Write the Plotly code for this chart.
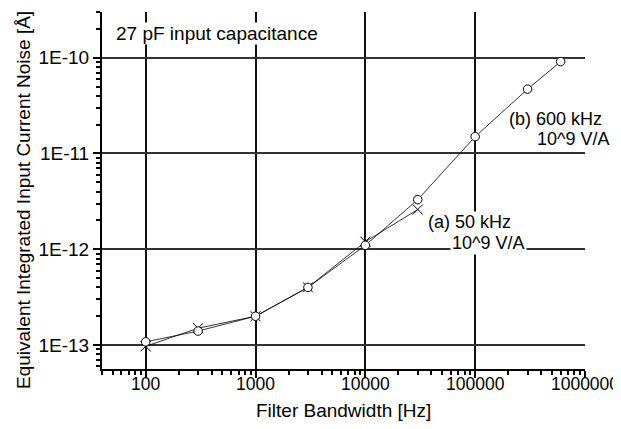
import math
import plotly.graph_objects as go

# ---- data ----
bw_b = [100, 300, 1000, 3000, 10000, 30000, 100000, 300000, 600000]
noise_b = [1.08e-13, 1.40e-13, 2.0e-13, 4.0e-13, 1.1e-12, 3.3e-12, 1.5e-11, 4.7e-11, 9.1e-11]
bw_a = [100, 300, 1000, 3000, 10000, 30000]
noise_a = [0.97e-13, 1.5e-13, 2.0e-13, 4.0e-13, 1.2e-12, 2.6e-12]

x_tickvals = [100, 1000, 10000, 100000, 1000000]
x_ticktext = ["100", "1000", "10000", "100000", "1000000"]
y_tickvals = [1e-13, 1e-12, 1e-11, 1e-10]
y_ticktext = ["1E-13", "1E-12", "1E-11", "1E-10"]

FONT = "Liberation Sans, Arial, sans-serif"
OFF = 8  # default page body margin
W, H = 621 - OFF, 429 - 2 * OFF
L, R, T = 102 - OFF, 36, 12 - OFF
PH = 357
B = H - T - PH
PW = W - L - R


def px(x):
    # window pixel -> paper fraction
    return (x - OFF - L) / PW


def py(y):
    return (H - B - (y - OFF)) / PH


x_minor = [m * 10 ** e for e in range(1, 6) for m in range(2, 10) if 40 <= m * 10 ** e <= 1e6]
y_minor = [m * 10.0 ** e for e in range(-14, -9) for m in range(2, 10) if 5.6e-14 <= m * 10.0 ** e <= 3.01e-10]

fig = go.Figure()
fig.add_trace(go.Scatter(
    x=bw_a, y=noise_a, mode="lines+markers",
    line=dict(color="black", width=0.8),
    marker=dict(symbol="x-thin-open", size=10, line=dict(color="black", width=1)),
    name="(a) 50 kHz",
))
fig.add_trace(go.Scatter(
    x=bw_b, y=noise_b, mode="lines+markers",
    line=dict(color="black", width=0.8),
    marker=dict(symbol="circle", size=8.5, color="white", line=dict(color="black", width=1)),
    name="(b) 600 kHz",
))

fig.update_layout(
    width=W, height=H,
    margin=dict(l=L, r=R, t=T, b=B, autoexpand=False),
    paper_bgcolor="white", plot_bgcolor="white",
    showlegend=False,
    font=dict(family=FONT, size=19, color="black"),
    xaxis=dict(
        type="log", range=[math.log10(40), 6], automargin=False,
        tickmode="array", tickvals=x_tickvals, ticktext=x_ticktext,
        ticks="outside", ticklen=7, tickwidth=1.5, tickcolor="black",
        ticklabelstandoff=-9, ticklabeloverflow="allow",
        showline=True, linecolor="black", linewidth=2,
        showgrid=True, gridcolor="#111", gridwidth=1.5,
        zeroline=False,
        minor=dict(tickmode="array", tickvals=x_minor, ticks="outside", ticklen=4,
                   tickwidth=1.5, tickcolor="black", showgrid=False),
        tickfont=dict(size=17.5),
    ),
    yaxis=dict(
        type="log", range=[-13.25, math.log10(3e-10)], automargin=False,
        tickmode="array", tickvals=y_tickvals, ticktext=y_ticktext,
        ticks="outside", ticklen=7, tickwidth=1.5, tickcolor="black",
        ticklabeloverflow="allow",
        showline=True, linecolor="black", linewidth=2,
        showgrid=True, gridcolor="#333", gridwidth=2,
        zeroline=False,
        minor=dict(tickmode="array", tickvals=y_minor, ticks="outside", ticklen=4,
                   tickwidth=1.5, tickcolor="black", showgrid=False),
        tickfont=dict(size=19),
    ),
)

ann = dict(xref="paper", yref="paper", showarrow=False, font=dict(family=FONT, size=18, color="black"),
           xanchor="left", yanchor="middle")
# axis titles
fig.add_annotation(text="Filter Bandwidth [Hz]", x=px(343), y=py(410), xanchor="center", yanchor="middle",
                   xref="paper", yref="paper", showarrow=False, font=dict(family=FONT, size=19, color="black"))
fig.add_annotation(text="Equivalent Integrated Input Current Noise [Å]", x=px(23), y=py(200), textangle=-90,
                   xanchor="center", yanchor="middle", xref="paper", yref="paper", showarrow=False,
                   font=dict(family=FONT, size=19, color="black"))
# in-plot labels
fig.add_annotation(text="27 pF input capacitance", x=px(115), y=py(33), bgcolor="white", borderpad=0,
                   xref="paper", yref="paper", showarrow=False, xanchor="left", yanchor="middle",
                   font=dict(family=FONT, size=19, color="black"))
fig.add_annotation(text="(b) 600 kHz", x=px(507), y=py(119), **ann)
fig.add_annotation(text="10^9 V/A", x=px(535), y=py(139), **ann)
fig.add_annotation(text="(a) 50 kHz", x=px(427), y=py(222), bgcolor="white", borderpad=0, **ann)
fig.add_annotation(text="10^9 V/A", x=px(450), y=py(243), bgcolor="white", borderpad=1, **ann)

fig.write_html("out.html")
